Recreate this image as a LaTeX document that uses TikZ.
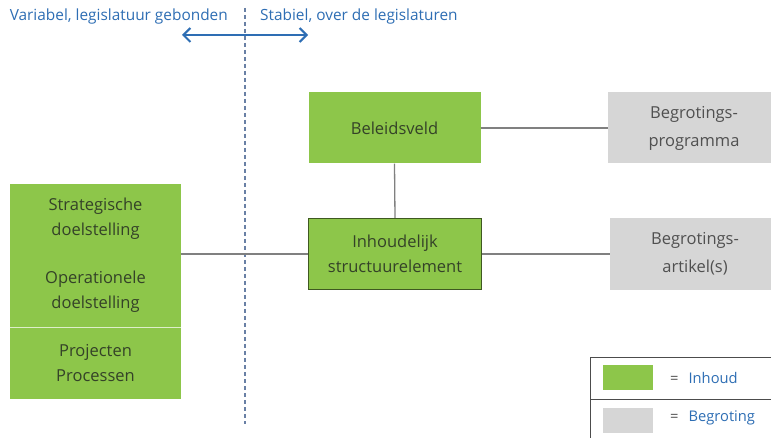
\documentclass[tikz,border=0pt]{standalone}
\usepackage{fontspec}
\setmainfont{Open Sans}
\usetikzlibrary{arrows.meta}

% Colours
\definecolor{inhoudgreen}{RGB}{141,198,74}
\definecolor{begrotgray}{RGB}{214,214,214}
\definecolor{toptext}{RGB}{46,110,180}
\definecolor{greentext}{RGB}{52,66,40}
\definecolor{graytext}{RGB}{80,80,80}
\definecolor{linkgray}{RGB}{128,128,128}
\definecolor{dashblue}{RGB}{105,128,165}

\tikzset{
  greenbox/.style={fill=inhoudgreen, text=greentext, align=center,
    inner sep=0pt, font=\fontsize{16.5}{25}\selectfont},
  graybox/.style={fill=begrotgray, text=graytext, align=center,
    inner sep=0pt, font=\fontsize{16.5}{28}\selectfont},
  link/.style={draw=linkgray, line width=1.3pt},
  toplabel/.style={text=toptext, font=\fontsize{15.4}{18}\selectfont, inner sep=0pt},
  legendtext/.style={text=toptext, font=\fontsize{14.7}{17}\selectfont, inner sep=0pt, anchor=west},
}

\begin{document}
\begin{tikzpicture}[x=1pt,y=-1pt]

% Frame of the picture
\clip (0,0) rectangle (771,438);
\fill[white] (0,0) rectangle (771,438);

% Dividing line between the two periods
\coordinate (divtop) at (245,8);
\coordinate (divbot) at (245,424);
\draw[dashblue, line width=1.3pt, dash pattern=on 4pt off 3pt] (divtop) -- (divbot);

% Labels at the top
\node[toplabel, anchor=east] (variabel) at (228,17) {Variabel, legislatuur gebonden};
\node[toplabel, anchor=west] (stabiel) at (260,17) {Stabiel, over de legislaturen};

% Double arrow
\coordinate (arrowL) at (182,35);
\coordinate (arrowR) at (308,35);
\draw[toptext, line width=2pt, {Straight Barb[length=7pt,width=14pt]}-{Straight Barb[length=7pt,width=14pt]}] (arrowL) -- (arrowR);

% Left block: goals and projects
\node[greenbox, minimum width=171pt, minimum height=143pt] (doel) at (95.5,255.5)
  {Strategische\\doelstelling\\[23pt]Operationele\\doelstelling};
\node[greenbox, minimum width=171pt, minimum height=72pt] (proj) at (95.5,363)
  {Projecten\\Processen};
\draw[white!70!inhoudgreen, line width=0.8pt] (doel.south west) -- (doel.south east);

% Middle column
\node[greenbox, minimum width=172pt, minimum height=71pt] (beleid) at (394.5,128) {Beleidsveld};
\node[greenbox, draw=black!55!inhoudgreen, line width=1.2pt, minimum width=173pt, minimum height=71pt]
  (inh) at (395,254) {Inhoudelijk\\structuurelement};

% Right column
\node[graybox, minimum width=172pt, minimum height=71pt] (prog) at (694,128) {Begrotings-\\programma};
\node[graybox, minimum width=170pt, minimum height=72pt] (art) at (695,254) {Begrotings-\\artikel(s)};

% Connectors
\draw[link] (beleid.east) -- (prog.west);
\draw[link] (beleid.south) -- (inh.north);
\draw[link] (doel.east |- inh.west) -- (inh.west);
\draw[link] (inh.east) -- (art.west);

% Legend
\draw[black!70, line width=0.9pt] (790,357) -- (590,357) -- (590,450);
\draw[black!70, line width=0.9pt] (590,399) -- (790,399);
\node[fill=inhoudgreen, minimum width=50pt, minimum height=25pt, inner sep=0pt] (keygreen) at (628,377.5) {};
\node[fill=begrotgray, minimum width=50pt, minimum height=25pt, inner sep=0pt] (keygray) at (628,420.5) {};
\node[legendtext] (keyinhoud) at (670,377.5) {{\color{graytext}=}\hspace{10pt}Inhoud};
\node[legendtext] (keybegrot) at (670,418) {{\color{graytext}=}\hspace{10pt}Begroting};

\end{tikzpicture}
\end{document}
